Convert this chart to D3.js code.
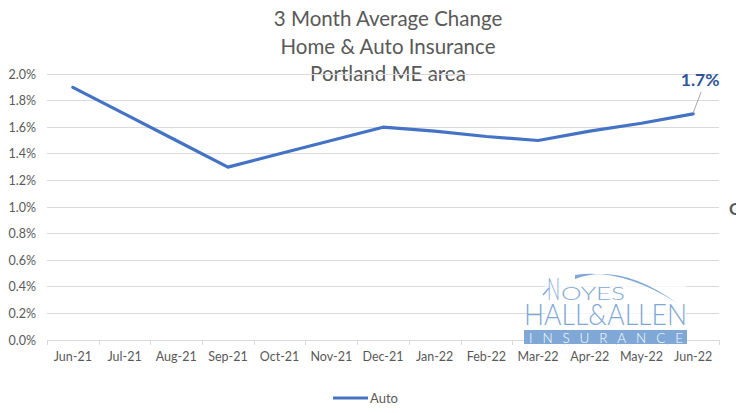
<!DOCTYPE html>
<html><head><meta charset="utf-8">
<script src="https://cdn.jsdelivr.net/npm/d3@7"></script>
<style>html,body{margin:0;padding:0;background:#fff;overflow:hidden}</style>
</head><body><svg id="c" width="736" height="413"></svg>
<script>
const titleLines = ["3 Month Average Change", "Home & Auto Insurance", "Portland ME area"];
const months = ["Jun-21","Jul-21","Aug-21","Sep-21","Oct-21","Nov-21","Dec-21","Jan-22","Feb-22","Mar-22","Apr-22","May-22","Jun-22"];
const auto = [1.9, 1.7, 1.5, 1.3, 1.4, 1.5, 1.6, 1.57, 1.53, 1.5, 1.57, 1.63, 1.7];
const yTicks = [0, 0.2, 0.4, 0.6, 0.8, 1.0, 1.2, 1.4, 1.6, 1.8, 2.0];
const seriesName = "Auto";

const svg = d3.select("#c");
const font = "Lato, 'Open Sans', sans-serif";
const pL = 47, pR = 719, pT = 74, pB = 340;

const x = d3.scaleBand().domain(months).range([pL, pR]);
const y = d3.scaleLinear().domain([0, 2.0]).range([pB, pT]);

// title
svg.append("g").selectAll("text").data(titleLines).join("text")
  .attr("x", 388).attr("y", (d,i) => 26 + i*27.5)
  .attr("text-anchor", "middle").attr("font-family", font).attr("font-weight", 400)
  .attr("font-size", 20.5).attr("fill", "#595959").text(d => d);

// gridlines
svg.append("g").selectAll("line").data(yTicks.filter(t => t > 0)).join("line")
  .attr("x1", pL).attr("x2", pR).attr("y1", d => y(d)).attr("y2", d => y(d))
  .attr("stroke", "#D9D9D9").attr("stroke-width", 1).attr("shape-rendering", "crispEdges");

// y axis labels
const yAxis = d3.axisLeft(y).tickValues(yTicks).tickFormat(d => d.toFixed(1) + "%").tickSize(0).tickPadding(11);
const ya = svg.append("g").attr("transform", `translate(${pL},0)`).call(yAxis);
ya.select(".domain").remove();
ya.selectAll("text").attr("font-family", font).attr("font-size", 12.5).attr("fill", "#595959");

// x axis
const xAxis = d3.axisBottom(x).tickSize(0).tickPadding(12);
const xa = svg.append("g").attr("transform", `translate(0,${pB})`).call(xAxis);
xa.select(".domain").attr("stroke", "#D9D9D9").attr("shape-rendering", "crispEdges");
xa.selectAll("text").attr("font-family", font).attr("font-size", 12.5).attr("fill", "#595959");
const bounds = months.map(m => x(m)).concat([x(months[months.length-1]) + x.bandwidth()]);
svg.append("g").selectAll("line").data(bounds).join("line")
  .attr("x1", d => Math.round(d)+0.5).attr("x2", d => Math.round(d)+0.5)
  .attr("y1", pB).attr("y2", pB + 5)
  .attr("stroke", "#D9D9D9");

// logo
const logo = svg.append("g");
logo.append("rect").attr("x", 545).attr("y", 268).attr("width", 141).attr("height", 60)
  .attr("fill", "#fff").attr("opacity", 0.75);
const logoBlue = "#7FA8D6";
const logoFont = "Lato, sans-serif";
logo.append("path")
  .attr("d", "M575,279 Q620,262 677,303 Q622,268 575,275 Z")
  .attr("fill", logoBlue);
logo.append("path").attr("d", "M543,295 L549,288").attr("stroke", logoBlue).attr("stroke-width", 1.4);
logo.append("text").attr("x", 547).attr("y", 300).attr("font-family", logoFont).attr("font-weight", 300)
  .attr("fill", logoBlue).attr("font-size", 32).attr("textLength", 13).attr("lengthAdjust", "spacingAndGlyphs")
  .text("N");
logo.append("text").attr("x", 561).attr("y", 300).attr("font-family", logoFont).attr("font-weight", 300)
  .attr("fill", logoBlue).attr("font-size", 17).attr("textLength", 64).attr("lengthAdjust", "spacingAndGlyphs")
  .text("OYES");
logo.append("text").attr("x", 524).attr("y", 325).attr("font-family", logoFont).attr("font-weight", 300)
  .attr("fill", logoBlue).attr("font-size", 30).attr("textLength", 163).attr("lengthAdjust", "spacingAndGlyphs")
  .text("HALL&ALLEN");
logo.append("rect").attr("x", 524).attr("y", 330).attr("width", 163).attr("height", 14).attr("fill", logoBlue);
logo.append("text").attr("x", 529).attr("y", 343).attr("font-family", logoFont).attr("font-weight", 300)
  .attr("fill", "#fff").attr("font-size", 13.5).attr("textLength", 154).attr("lengthAdjust", "spacing")
  .text("INSURANCE");

// line
const line = d3.line().x((d,i) => x(months[i]) + x.bandwidth()/2).y(d => y(d));
svg.append("path").datum(auto).attr("d", line)
  .attr("fill", "none").attr("stroke", "#4472C4").attr("stroke-width", 3.2)
  .attr("stroke-linejoin", "round").attr("stroke-linecap", "round");

// data label with leader
const li = auto.length - 1;
const lx = x(months[li]) + x.bandwidth()/2, ly = y(auto[li]);
svg.append("line").attr("x1", lx).attr("y1", ly - 1).attr("x2", lx + 8).attr("y2", ly - 22)
  .attr("stroke", "#A6A6A6").attr("stroke-width", 1);
svg.append("text").attr("x", lx + 7).attr("y", ly - 28).attr("text-anchor", "middle")
  .attr("font-family", font).attr("font-weight", 700).attr("font-size", 17.5)
  .attr("fill", "#2F5597").text(auto[li].toFixed(1) + "%");

// legend
const lg = svg.append("g");
lg.append("line").attr("x1", 333).attr("x2", 368).attr("y1", 398).attr("y2", 398)
  .attr("stroke", "#4472C4").attr("stroke-width", 3.2);
lg.append("text").attr("x", 370).attr("y", 403).attr("font-family", font).attr("font-size", 13)
  .attr("fill", "#595959").text(seriesName);

// cut-off glyph at right edge
svg.append("text").attr("x", 729).attr("y", 215).attr("font-family", font).attr("font-size", 17)
  .attr("fill", "#595959").attr("font-weight", 700).text("C");
</script></body></html>
